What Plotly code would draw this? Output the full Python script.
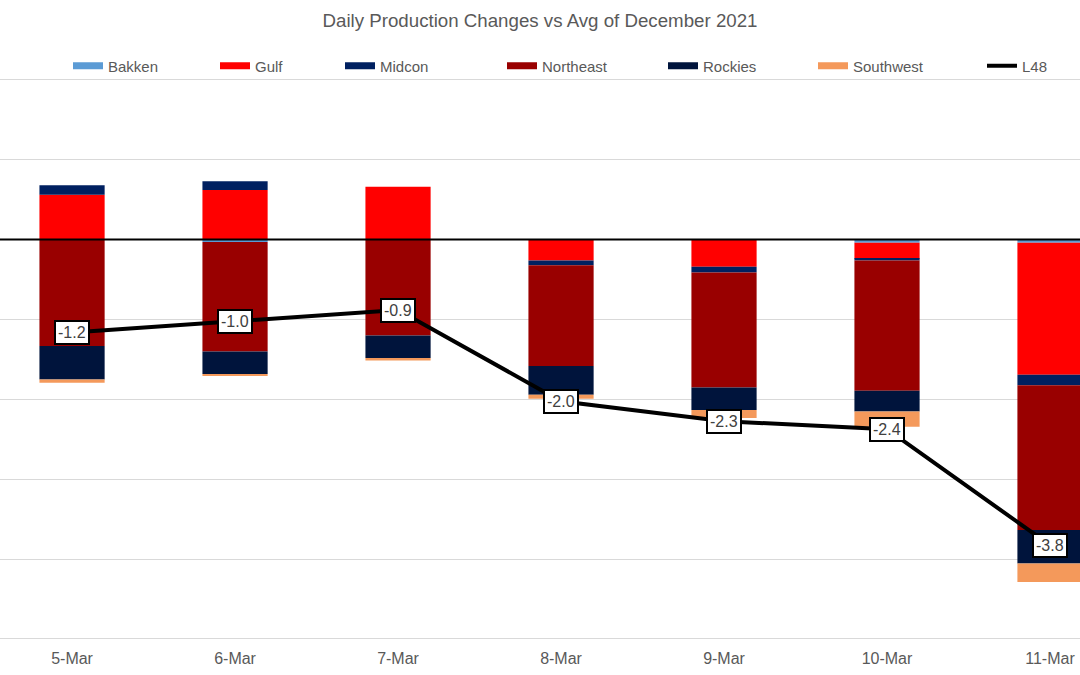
import plotly.graph_objects as go

dates = ["5-Mar", "6-Mar", "7-Mar", "8-Mar", "9-Mar", "10-Mar", "11-Mar"]
bakken = [0.0, -0.03, 0.0, 0.0, 0.0, -0.04, -0.04]
gulf = [0.56, 0.62, 0.66, -0.26, -0.34, -0.20, -1.65]
midcon = [0.12, 0.11, 0.0, -0.06, -0.07, -0.02, -0.13]
northeast = [-1.33, -1.37, -1.20, -1.26, -1.44, -1.63, -1.81]
rockies = [-0.42, -0.28, -0.28, -0.36, -0.28, -0.26, -0.42]
southwest = [-0.04, -0.02, -0.03, -0.05, -0.10, -0.19, -0.23]
l48 = [-1.16, -1.02, -0.88, -2.02, -2.27, -2.37, -3.82]

series = [
    ("Bakken", bakken, "#5B9BD5"),
    ("Gulf", gulf, "#FF0000"),
    ("Midcon", midcon, "#002060"),
    ("Northeast", northeast, "#990000"),
    ("Rockies", rockies, "#00143C"),
    ("Southwest", southwest, "#F4995B"),
]

FONT = "Liberation Sans, Arial, sans-serif"
GREY = "#595959"

fig = go.Figure()
# text start x positions (px) of each legend entry
text_x = [108, 255, 380, 542, 703, 853, 1022]

for i, (name, vals, col) in enumerate(series):
    lg = "legend" if i == 0 else f"legend{i+1}"
    fig.add_trace(go.Bar(x=dates, y=vals, name=name, marker=dict(color=col, line=dict(width=0)),
                         width=0.4, showlegend=False, legendgroup=name))
    fig.add_trace(go.Scatter(x=[None], y=[None], mode="lines", name=name, legendgroup=name,
                             line=dict(color=col, width=7), legend=lg, hoverinfo="skip"))

fig.add_trace(go.Scatter(x=dates, y=l48, mode="lines", name="L48",
                         line=dict(color="black", width=4), legend="legend7"))

for d, v in zip(dates, l48):
    fig.add_annotation(x=d, y=v, text=f"{v:.1f}", showarrow=False,
                       font=dict(family=FONT, size=16, color="#404040"),
                       bgcolor="white", bordercolor="black", borderwidth=2, borderpad=2)

fig.add_shape(type="line", xref="paper", x0=0, x1=1, yref="y", y0=0, y1=0,
              line=dict(color="black", width=2), layer="above")

layout_legends = {}
for i, tx in enumerate(text_x):
    key = "legend" if i == 0 else f"legend{i+1}"
    layout_legends[key] = dict(x=(tx - 40) / 1080, xanchor="left", y=1 - 66 / 675, yanchor="middle",
                               yref="container", orientation="h", bgcolor="rgba(0,0,0,0)",
                               font=dict(family=FONT, size=15, color=GREY))

fig.update_layout(
    width=1080, height=675,
    margin=dict(l=0, r=0, t=78, b=37, autoexpand=False),
    paper_bgcolor="white", plot_bgcolor="white",
    barmode="relative",
    title=dict(text="Daily Production Changes vs Avg of December 2021", x=0.5, xanchor="center",
               y=1 - 20 / 675, yanchor="middle", yref="container",
               font=dict(family=FONT, size=18.7, color=GREY)),
    xaxis=dict(range=[-0.442, 6.184], showgrid=False, showline=True, linecolor="#D9D9D9", linewidth=1,
               ticks="outside", ticklen=6, tickcolor="rgba(0,0,0,0)",
               tickfont=dict(family=FONT, size=16, color=GREY)),
    yaxis=dict(range=[-4.98, 2.02], tickvals=[-4, -3, -2, -1, 0, 1, 2], showticklabels=False,
               showgrid=True, gridcolor="#D9D9D9", gridwidth=1, zeroline=False),
    showlegend=True,
    **layout_legends,
)

fig.write_html("out.html", config={"displayModeBar": False},
               post_script="document.body.style.margin='0';document.body.style.overflow='hidden';")
